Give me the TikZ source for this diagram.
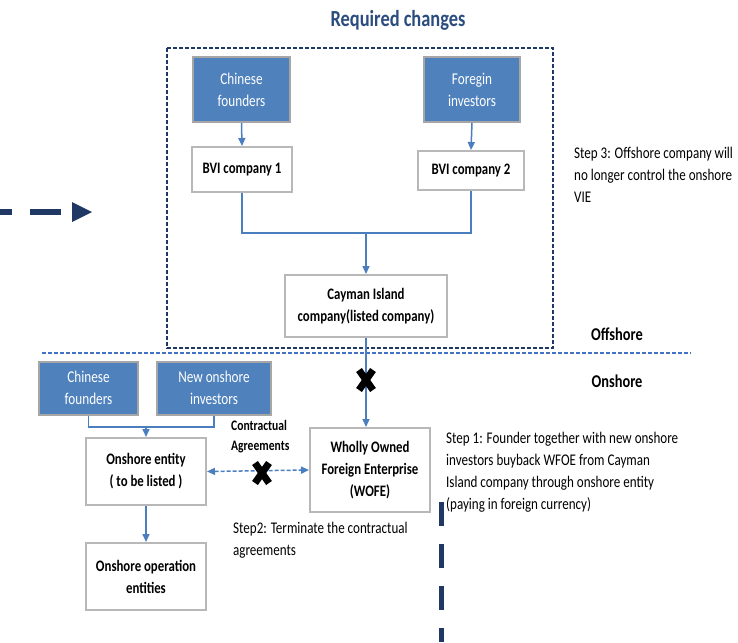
\documentclass[tikz,border=0pt]{standalone}
\usepackage{fontspec}
\setmainfont{Carlito}[FakeStretch=0.8]
\usetikzlibrary{arrows.meta}
\definecolor{cblue}{HTML}{4F81BD}
\definecolor{cline}{HTML}{4A7EBF}
\definecolor{cgray}{HTML}{A6A6A6}
\definecolor{cnavy}{HTML}{1F3864}
\definecolor{ctitle}{HTML}{2B4C7E}
\definecolor{csep}{HTML}{4472C4}
\tikzset{
  fillbox/.style={draw=cgray, fill=cblue, line width=2pt, text=white, align=center, inner sep=0pt,
    font=\fontsize{16.5}{22}\selectfont},
  whitebox/.style={draw=cgray!80, fill=white, line width=2pt, text=black, align=center, inner sep=0pt,
    font=\bfseries\fontsize{16}{22}\selectfont},
  conn/.style={draw=cline, line width=1.5pt},
  arr/.style={conn, -{Triangle[length=8pt,width=7pt]}},
  txt/.style={inner sep=0pt, align=left, font=\fontsize{16.3}{22}\selectfont},
  bold/.style={inner sep=0pt, font=\bfseries\fontsize{18}{22}\selectfont},
  xmark/.style={line width=7pt, black},
}
\begin{document}
\begin{tikzpicture}[x=1pt,y=-1pt]
\useasboundingbox (0,0) rectangle (738,642);
% title
\node[inner sep=0pt, text=ctitle, font=\bfseries\fontsize{23}{26}\selectfont] (title) at (398,20) {Required changes};
% offshore frame
\draw[cnavy, line width=1.5pt, dash pattern=on 4pt off 2pt] (167,48) rectangle (553,348);
% separator
\draw[csep, line width=2pt, dash pattern=on 4pt off 2pt] (42,353) -- (691,353);
% offshore nodes
\node[fillbox, minimum width=97pt, minimum height=65pt] (cf1) at (241.5,89.5) {Chinese\\founders};
\node[fillbox, minimum width=96pt, minimum height=65pt] (fi) at (472,89.5) {Foregin\\investors};
\node[whitebox, minimum width=100pt, minimum height=45pt] (bvi1) at (242,169.5) {BVI company 1};
\node[whitebox, minimum width=106pt, minimum height=39pt] (bvi2) at (471,170.5) {BVI company 2};
\node[whitebox, minimum width=162pt, minimum height=62pt] (cay) at (366,306) {Cayman Island\\company(listed company)};
% onshore nodes
\node[fillbox, minimum width=99pt, minimum height=53pt] (cf2) at (88.5,388) {Chinese\\founders};
\node[fillbox, minimum width=114pt, minimum height=53pt] (noi) at (214,388) {New onshore\\investors};
\node[whitebox, minimum width=120pt, minimum height=67pt] (oe) at (146,471.5) {Onshore entity\\( to be listed )};
\node[whitebox, minimum width=120pt, minimum height=67pt] (oop) at (146,576.5) {Onshore operation\\entities};
\node[whitebox, minimum width=120pt, minimum height=84pt] (wofe) at (370,470) {Wholly Owned\\Foreign Enterprise\\(WOFE)};
% connectors offshore
\draw[arr] (cf1.south) -- (bvi1.north);
\draw[arr] (fi.south) -- (bvi2.north);
\coordinate (j1) at (366,233);
\draw[conn] (bvi1.south) |- (j1) -| (bvi2.south);
\draw[arr] (j1) -- (cay.north);
\draw[arr] (cay.south) -- (cay.south |- wofe.north);
% connectors onshore
\coordinate (j2) at (146,427);
\draw[conn] (cf2.south) |- (j2) -| (noi.south);
\draw[arr] (j2) -- (oe.north);
\draw[arr] (oe.south) -- (oop.north);
\draw[conn, dash pattern=on 4pt off 2pt, {Triangle[length=8pt,width=7pt]}-{Triangle[length=8pt,width=7pt]}] (oe.east) -- (wofe.west);
% X marks
\coordinate (x1) at (366,380);
\coordinate (x2) at (262,473);
\foreach \c in {x1,x2}{
  \draw[xmark] ([shift={(-7,-10)}]\c) -- ([shift={(7,10)}]\c);
  \draw[xmark] ([shift={(7,-10)}]\c) -- ([shift={(-7,10)}]\c);
}
% labels
\node[txt, anchor=north west] (s3) at (574,147) {Step 3: Offshore company will\\no longer control the onshore\\VIE};
\node[bold] (off) at (617,334) {Offshore};
\node[bold] (on) at (617,381) {Onshore};
\node[inner sep=0pt, align=left, anchor=west, font=\bfseries\fontsize{14.5}{20}\selectfont] (ca) at (231,437) {Contractual\\Agreements};
\node[txt, anchor=north west] (s2) at (233,522) {Step2: Terminate the contractual\\agreements};
\node[txt, anchor=north west] (s1) at (446,432) {Step 1: Founder together with new onshore\\investors buyback WFOE from Cayman\\Island company through onshore entity\\(paying in foreign currency)};
% left dashed arrow
\coordinate (la) at (0,212);
\coordinate (lb) at (61,212);
\draw[cnavy, line width=6pt, dash pattern=on 31pt off 18pt, dash phase=19pt] (la) -- (lb);
\fill[cnavy] (72,202) -- (92,212) -- (72,222) -- cycle;
% vertical dashed line
\coordinate (va) at (441,502);
\coordinate (vb) at (441,642);
\draw[cnavy, line width=5pt, dash pattern=on 24pt off 18pt] (va) -- (vb);
\end{tikzpicture}
\end{document}
